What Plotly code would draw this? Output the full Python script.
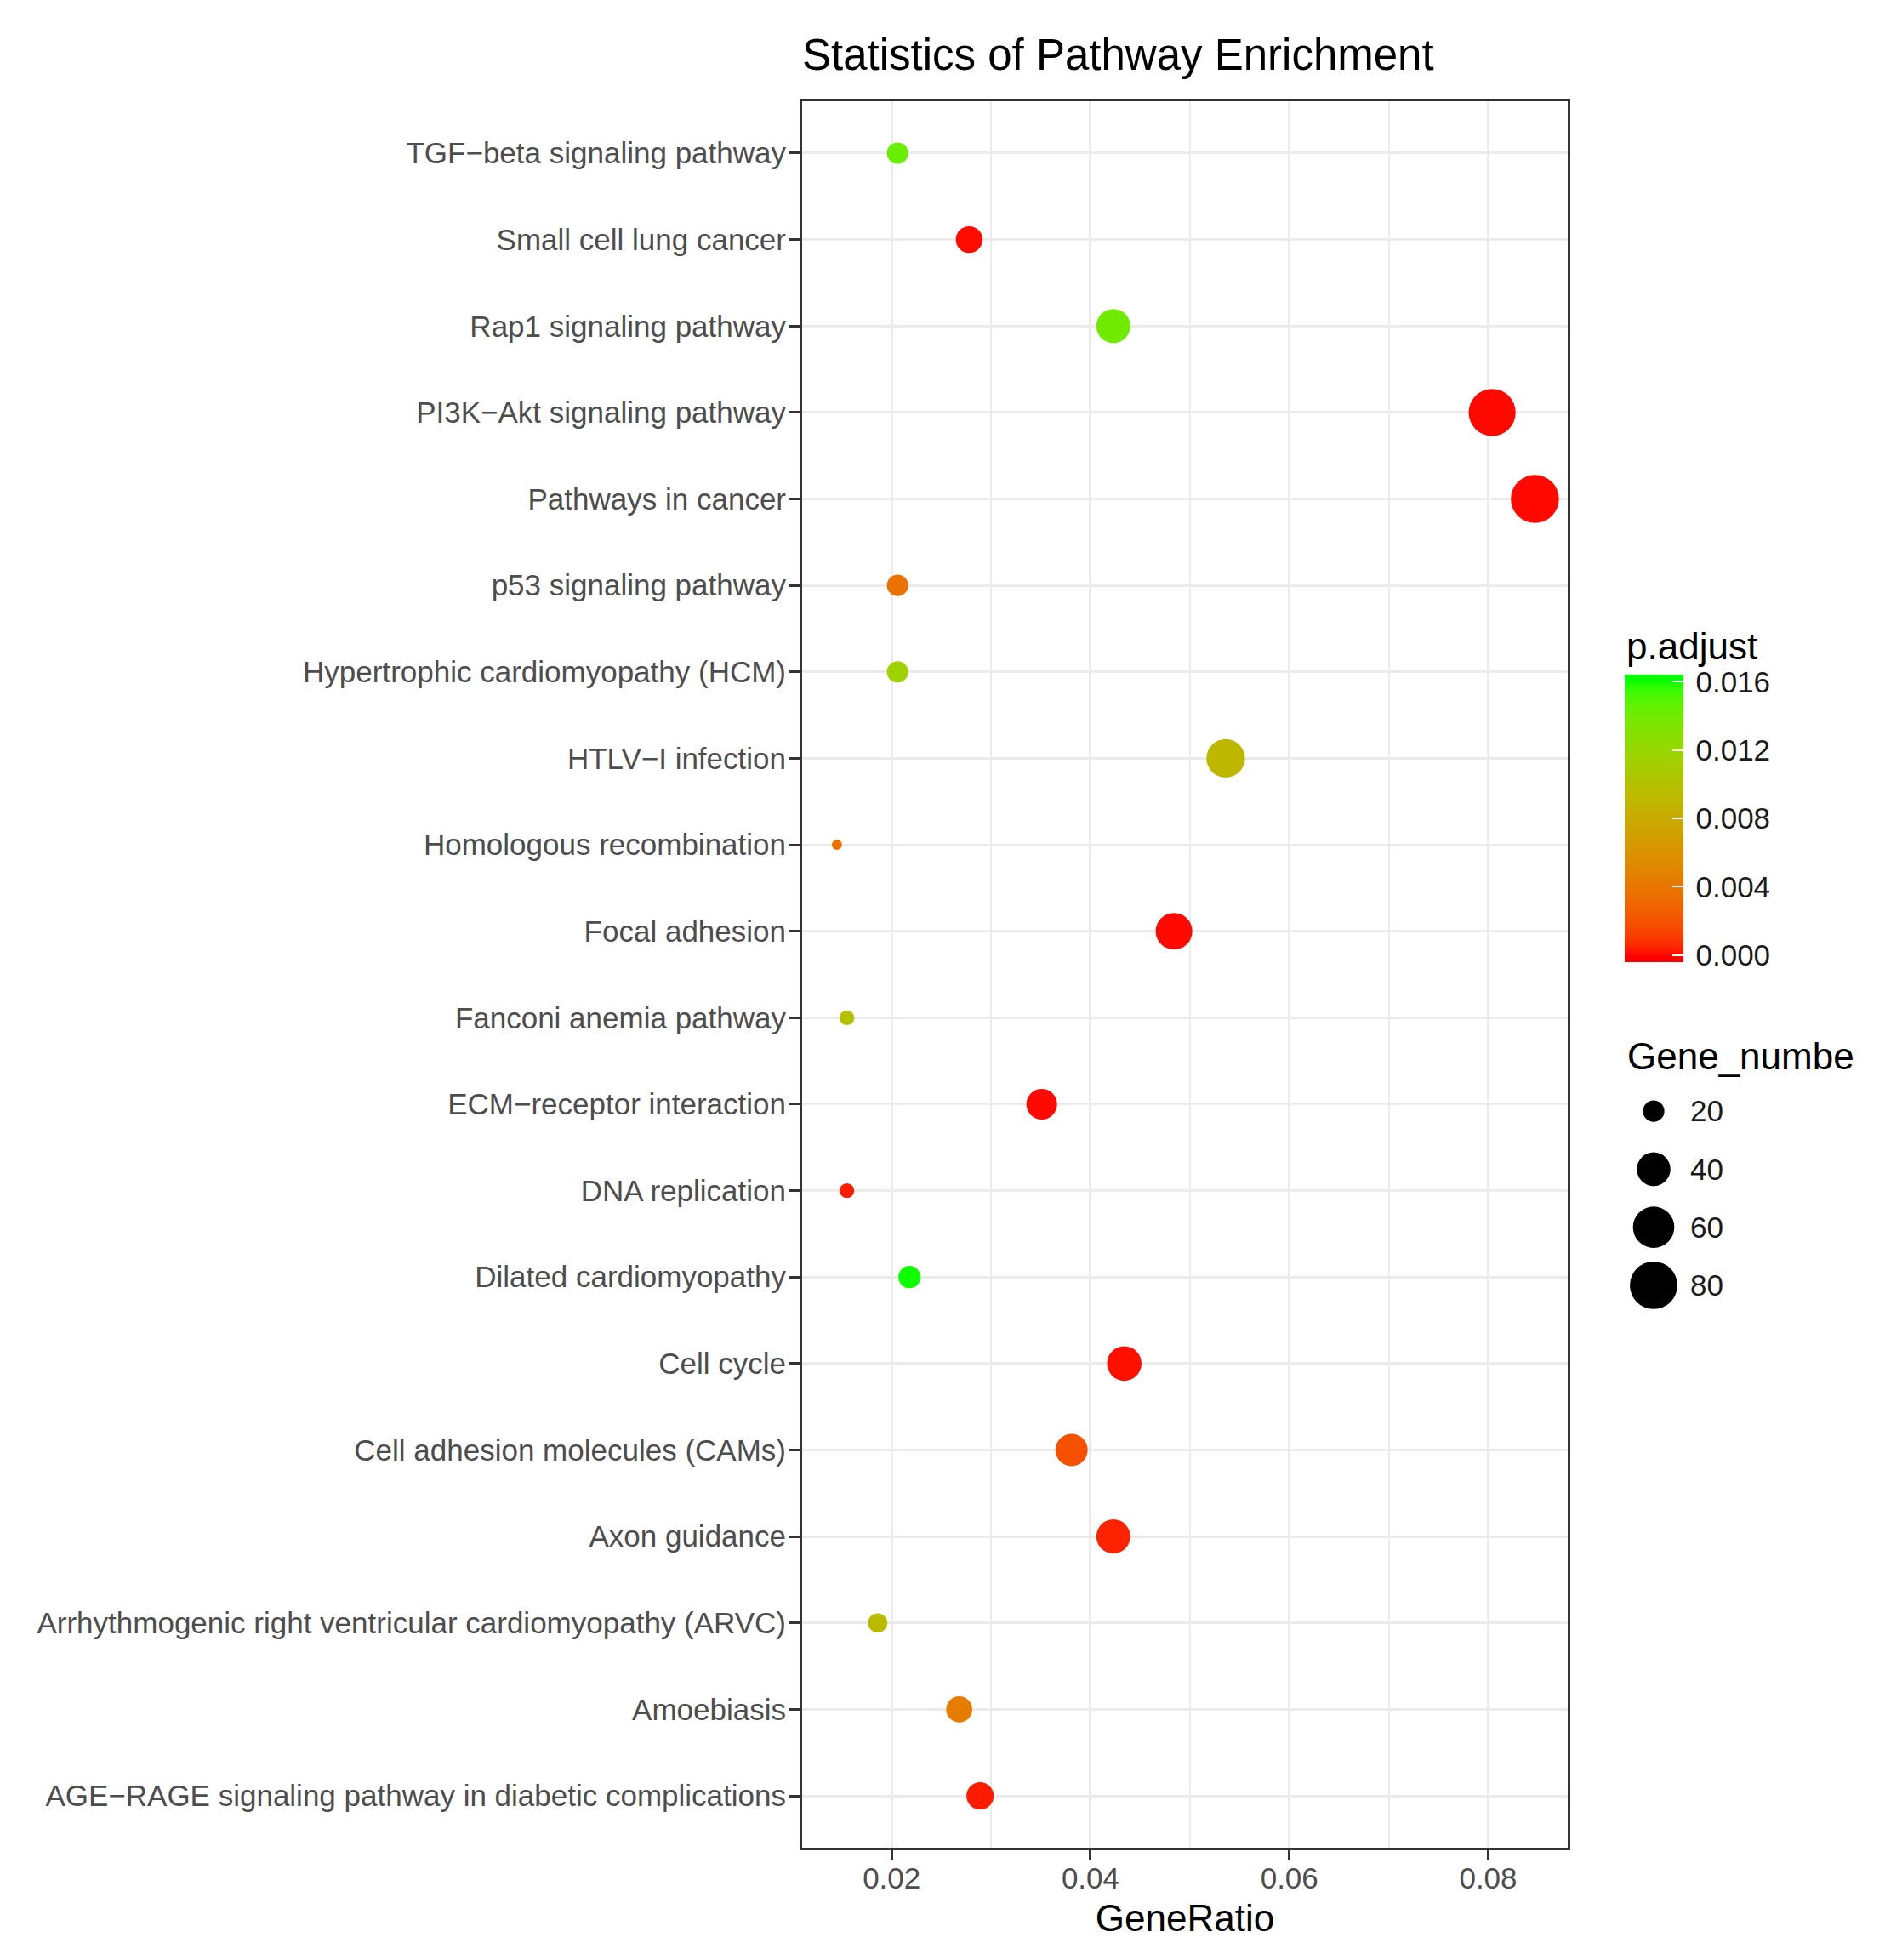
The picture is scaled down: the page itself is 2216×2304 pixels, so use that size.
import numpy as np
import plotly.graph_objects as go

# ---------------- data (bottom -> top, as on the y axis) ----------------
pathways = [
    "AGE\u2212RAGE signaling pathway in diabetic complications",
    "Amoebiasis",
    "Arrhythmogenic right ventricular cardiomyopathy (ARVC)",
    "Axon guidance",
    "Cell adhesion molecules (CAMs)",
    "Cell cycle",
    "Dilated cardiomyopathy",
    "DNA replication",
    "ECM\u2212receptor interaction",
    "Fanconi anemia pathway",
    "Focal adhesion",
    "Homologous recombination",
    "HTLV\u2212I infection",
    "Hypertrophic cardiomyopathy (HCM)",
    "p53 signaling pathway",
    "Pathways in cancer",
    "PI3K\u2212Akt signaling pathway",
    "Rap1 signaling pathway",
    "Small cell lung cancer",
    "TGF\u2212beta signaling pathway",
]
gene_ratio = [0.0289, 0.0268, 0.0186, 0.0423, 0.0381, 0.0434, 0.0218, 0.0155,
              0.0351, 0.0155, 0.0484, 0.0145, 0.0536, 0.0206, 0.0206, 0.0847,
              0.0804, 0.0423, 0.0278, 0.0206]
gene_number = [28, 26, 18, 41, 37, 42, 21, 15, 34, 15, 47, 14, 52, 20, 20, 82,
               78, 41, 27, 20]
p_adjust = [0.0003, 0.0045, 0.0094, 0.0004, 0.0019, 0.0001, 0.0160, 0.0003,
            0.00002, 0.0099, 0.00002, 0.0036, 0.0090, 0.0116, 0.0038, 0.0,
            0.00001, 0.0140, 0.00005, 0.0143]

size_breaks = [20, 40, 60, 80]
cbar_ticks = [0.000, 0.004, 0.008, 0.012, 0.016]

TITLE = "Statistics of Pathway Enrichment"
X_TITLE = "GeneRatio"
COLOR_TITLE = "p.adjust"
SIZE_TITLE = "Gene_number"

# ---------------- layout geometry (page pixels) ----------------
PAGE_OFF = 8                       # default body margin of the html page
W, H = 2180 - PAGE_OFF, 2304 - PAGE_OFF
PANEL_L, PANEL_R, PANEL_T, PANEL_B = 943, 1843, 119, 2172
FONT = "Liberation Sans, Arial, Helvetica, sans-serif"


def fx(px):
    return (px - PAGE_OFF) / W


def fy(py):
    return 1 - (py - PAGE_OFF) / H


# ---------------- ggplot-like scales ----------------
def _srgb_to_lin(c):
    c = np.asarray(c, float)
    return np.where(c <= 0.04045, c / 12.92, ((c + 0.055) / 1.055) ** 2.4)


def _lin_to_srgb(c):
    c = np.clip(c, 0, 1)
    return np.where(c <= 0.0031308, 12.92 * c, 1.055 * c ** (1 / 2.4) - 0.055)


_M = np.array([[0.4124, 0.3576, 0.1805],
               [0.2126, 0.7152, 0.0722],
               [0.0193, 0.1192, 0.9505]])
_WHITE = np.array([0.95047, 1.0, 1.08883])


def rgb_to_lab(rgb):
    xyz = _M @ _srgb_to_lin(np.array(rgb) / 255.0) / _WHITE
    f = np.where(xyz > 0.008856, np.cbrt(xyz), 7.787 * xyz + 16 / 116)
    return np.array([116 * f[1] - 16, 500 * (f[0] - f[1]), 200 * (f[1] - f[2])])


def lab_to_rgb(lab):
    L, a, b = lab
    fy_ = (L + 16) / 116
    f = np.array([fy_ + a / 500, fy_, fy_ - b / 200])
    xyz = np.where(f ** 3 > 0.008856, f ** 3, (f - 16 / 116) / 7.787) * _WHITE
    lin = np.linalg.inv(_M) @ xyz
    return np.round(_lin_to_srgb(lin) * 255).astype(int)


LOW, HIGH = rgb_to_lab((255, 0, 0)), rgb_to_lab((0, 255, 0))


def ramp(t):
    r, g, b = lab_to_rgb(LOW + (HIGH - LOW) * t)
    return f"rgb({r},{g},{b})"


pmin, pmax = min(p_adjust), max(p_adjust)
half_bin = (pmax - pmin) / 38.0          # ggplot colourbar overhang
cmin, cmax = pmin - half_bin, pmax + half_bin
colorscale = []
for s in np.linspace(0, 1, 61):
    v = cmin + s * (cmax - cmin)
    t = float(np.clip((v - pmin) / (pmax - pmin), 0, 1))
    colorscale.append([float(s), ramp(t)])

nmin, nmax = min(gene_number), max(gene_number)


def diameter(n):
    n = np.asarray(n, float)
    s = 1 + 5 * np.sqrt((n - nmin) / (nmax - nmin))
    return 3.14 * (2.845 * s + 0.945)


CBAR_POS = dict(x=fx(1910), xanchor="left", y=fy(793), yanchor="top",
                len=338, lenmode="pixels", thickness=69, thicknessmode="pixels",
                xpad=0, ypad=0, outlinewidth=0, borderwidth=0,
                tickvals=cbar_ticks, ticktext=[f"{v:.3f}" for v in cbar_ticks])

# ---------------- figure ----------------
fig = go.Figure()

# colour bar that carries the tick labels (drawn first, underneath)
fig.add_trace(go.Scatter(
    x=gene_ratio, y=pathways, mode="markers", xaxis="x", yaxis="y",
    showlegend=False, hoverinfo="skip",
    marker=dict(
        size=diameter(gene_number), color=p_adjust, colorscale=colorscale,
        cmin=cmin, cmax=cmax, line=dict(width=0), opacity=0,
        showscale=True,
        colorbar=dict(**CBAR_POS, ticks="outside", ticklen=8, tickwidth=1,
                      tickcolor="rgba(0,0,0,0)",
                      tickfont=dict(family=FONT, size=35, color="#1a1a1a")),
    ),
))

# the enrichment dots, with the colour bar showing white inner ticks
fig.add_trace(go.Scatter(
    x=gene_ratio, y=pathways, mode="markers", xaxis="x", yaxis="y",
    showlegend=False, cliponaxis=False,
    marker=dict(
        size=diameter(gene_number), color=p_adjust, colorscale=colorscale,
        cmin=cmin, cmax=cmax, line=dict(width=0), opacity=1,
        showscale=True,
        colorbar=dict(**CBAR_POS, ticks="inside", ticklen=13, tickwidth=2,
                      tickcolor="white", showticklabels=False),
    ),
))

# size legend drawn on its own small axes
fig.add_trace(go.Scatter(
    x=[0.5] * len(size_breaks), y=[str(b) for b in size_breaks],
    mode="markers", xaxis="x2", yaxis="y2", showlegend=False, cliponaxis=False,
    marker=dict(size=diameter(size_breaks), color="#000000", opacity=1,
                line=dict(width=0)),
))

fig.update_layout(
    width=W, height=H,
    margin=dict(l=0, r=0, t=0, b=0),
    paper_bgcolor="white", plot_bgcolor="white",
    font=dict(family=FONT),
    title=dict(text=TITLE, x=fx(PANEL_L), xanchor="left", xref="paper",
               y=fy(64), yanchor="middle", yref="paper",
               font=dict(family=FONT, size=51, color="black")),
    xaxis=dict(
        domain=[fx(PANEL_L), fx(PANEL_R)], range=[0.0110, 0.0880],
        anchor="y", tick0=0, dtick=0.02, tickformat=".2f",
        showgrid=True, gridcolor="#ebebeb", gridwidth=3,
        minor=dict(dtick=0.01, tick0=0, showgrid=True, gridcolor="#ebebeb",
                   gridwidth=1.5, ticks=""),
        zeroline=False,
        showline=True, mirror=True, linecolor="#333333", linewidth=3,
        ticks="outside", ticklen=11, tickwidth=3, tickcolor="#333333",
        ticklabelstandoff=-8,
        tickfont=dict(family=FONT, size=35, color="#4d4d4d"),
        title=dict(text=X_TITLE, standoff=14,
                   font=dict(family=FONT, size=44, color="black")),
    ),
    yaxis=dict(
        domain=[fy(PANEL_B), fy(PANEL_T)], anchor="x",
        type="category", categoryorder="array", categoryarray=pathways,
        range=[-0.6, len(pathways) - 0.4],
        showgrid=True, gridcolor="#ebebeb", gridwidth=3, zeroline=False,
        showline=True, mirror=True, linecolor="#333333", linewidth=3,
        ticks="outside", ticklen=12, tickwidth=3, tickcolor="#333333",
        ticklabelstandoff=-3,
        tickfont=dict(family=FONT, size=35, color="#4d4d4d"),
    ),
    xaxis2=dict(domain=[fx(1904), fx(1984)], range=[0, 1], anchor="y2",
                visible=False, fixedrange=True),
    yaxis2=dict(domain=[fy(1545), fy(1272)], anchor="x2", side="right",
                type="category", categoryorder="array",
                categoryarray=[str(b) for b in size_breaks[::-1]],
                range=[-0.5, len(size_breaks) - 0.5],
                showgrid=False, zeroline=False, showline=False, ticks="",
                ticklabelstandoff=2,
                tickfont=dict(family=FONT, size=35, color="#1a1a1a")),
    annotations=[
        dict(text=COLOR_TITLE, x=fx(1910), y=fy(760), xref="paper", yref="paper",
             xanchor="left", yanchor="middle", showarrow=False,
             font=dict(family=FONT, size=44, color="black")),
        dict(text=SIZE_TITLE, x=fx(1911), y=fy(1241), xref="paper", yref="paper",
             xanchor="left", yanchor="middle", showarrow=False,
             font=dict(family=FONT, size=44, color="black")),
    ],
)

fig.write_html("out.html")
